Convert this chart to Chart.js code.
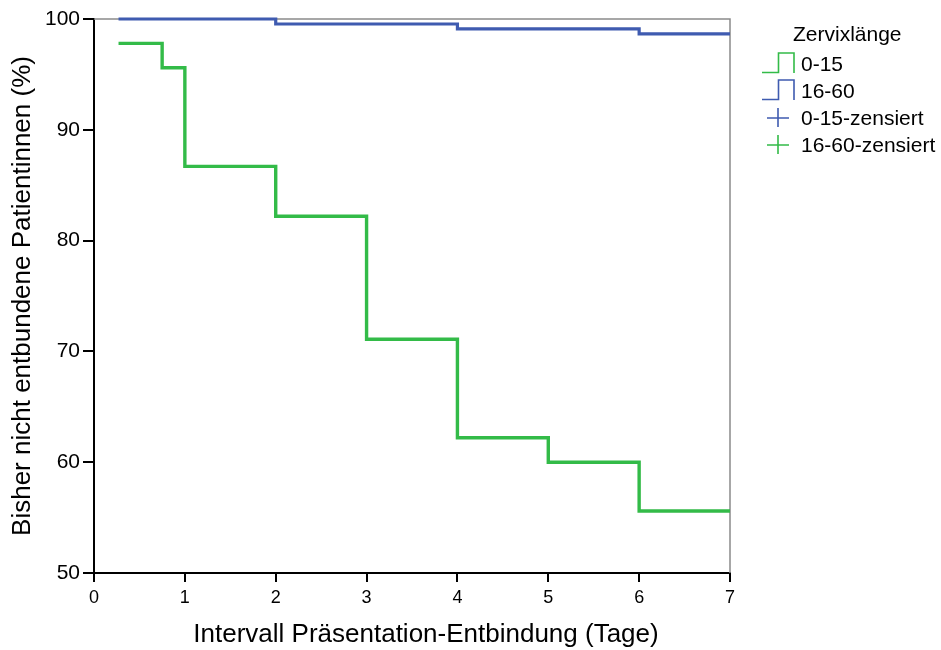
<!DOCTYPE html>
<html>
<head>
<meta charset="utf-8">
<script src="https://cdn.jsdelivr.net/npm/chart.js@4.4.1/dist/chart.umd.min.js"></script>
<style>
  body { margin: 0; background: #fff; font-family: "Liberation Sans", Arial, sans-serif; }
  #wrap { position: relative; width: 941px; height: 650px; }
  #xtitle { position: absolute; left: 226px; width: 400px; top: 617px; text-align: center; font-size: 26px; line-height: 32px; white-space: nowrap; color: #000; display: flex; justify-content: center; }
  #legend { position: absolute; left: 760px; top: 20px; font-size: 21px; color: #000; }
  #legend .title { position: absolute; left: 33px; top: 2px; white-space: nowrap; }
  #legend .row { position: absolute; left: 0; height: 24px; white-space: nowrap; }
  #legend svg { position: absolute; left: 0; top: 0; }
  #legend .row span { position: absolute; left: 41px; top: 0; line-height: 24px; }
</style>
</head>
<body>
<div id="wrap">
  <canvas id="km" width="941" height="650"></canvas>
  <div id="xtitle">Intervall Präsentation-Entbindung (Tage)</div>
  <div id="legend"></div>
</div>
<script>
// Kaplan-Meier steps (day, % still undelivered)
const daysShort = [0.27, 0.75, 1, 2, 3, 4, 5, 6, 7];
const shortCervix = [97.8, 95.6, 86.7, 82.2, 71.1, 62.2, 60.0, 55.6, 55.6];   // 0-15
const daysLong = [0.27, 2, 4, 6, 7];
const longCervix = [100, 99.55, 99.1, 98.65, 98.65];                          // 16-60

const xTicks = [0, 1, 2, 3, 4, 5, 6, 7];
const yTicks = [50, 60, 70, 80, 90, 100];

const green = '#33bb48';
const blue = '#3f5bb0';

function toPoints(xs, ys) {
    return xs.map((x, i) => ({ x: x, y: ys[i] }));
}

// gray frame on top and right side of plot
const frame = {
    id: 'frame',
    beforeDatasetsDraw(chart) {
        const a = chart.chartArea, c = chart.ctx;
        c.save();
        c.strokeStyle = '#8a8a8a';
        c.lineWidth = 1.5;
        c.beginPath();
        c.moveTo(a.left, a.top);
        c.lineTo(a.right, a.top);
        c.lineTo(a.right, a.bottom);
        c.stroke();
        c.restore();
    }
};

new Chart(document.getElementById('km'), {
    type: 'line',
    data: {
        datasets: [
            { label: '0-15', data: toPoints(daysShort, shortCervix), borderColor: green, borderWidth: 3.4, stepped: 'before', pointRadius: 0, fill: false },
            { label: '16-60', data: toPoints(daysLong, longCervix), borderColor: blue, borderWidth: 3.2, stepped: 'before', pointRadius: 0, fill: false, clip: 4 }
        ]
    },
    options: {
        responsive: false,
        animation: false,
        devicePixelRatio: 1,
        layout: { padding: { left: 0, right: 211, top: 19, bottom: 0 } },
        plugins: { legend: { display: false }, tooltip: { enabled: false } },
        scales: {
            x: {
                type: 'linear', min: 0, max: 7,
                afterBuildTicks: s => { s.ticks = xTicks.map(v => ({ value: v })); },
                afterFit: s => { s.height = 77; },
                ticks: { color: '#000', font: { size: 18, family: 'Liberation Sans' }, padding: 5, maxRotation: 0 },
                grid: { drawOnChartArea: false, tickLength: 9, color: '#000', lineWidth: 2 },
                border: { color: '#000', width: 2 }
            },
            y: {
                min: 50, max: 100,
                afterBuildTicks: s => { s.ticks = yTicks.map(v => ({ value: v })); },
                afterFit: s => { s.width = 94; },
                ticks: { color: '#000', font: { size: 21, family: 'Liberation Sans' }, padding: 3 },
                grid: { drawOnChartArea: false, tickLength: 11, color: '#000', lineWidth: 2 },
                border: { color: '#000', width: 2 },
                title: { display: true, text: 'Bisher nicht entbundene Patientinnen (%)', color: '#000',
                         font: { size: 26, family: 'Liberation Sans' }, padding: { top: 7, bottom: 4 } }
            }
        }
    },
    plugins: [frame]
});

// legend (SPSS style)
const legendItems = [
    { text: '0-15', color: green, kind: 'step' },
    { text: '16-60', color: blue, kind: 'step' },
    { text: '0-15-zensiert', color: blue, kind: 'cross' },
    { text: '16-60-zensiert', color: green, kind: 'cross' }
];
const lg = document.getElementById('legend');
lg.innerHTML = '<div class="title">Zervixlänge</div>';
legendItems.forEach((it, i) => {
    const top = 32 + i * 27;
    let icon;
    if (it.kind === 'step') {
        icon = `<svg width="36" height="24"><path d="M2 20.5 H18.5 V1 H34 V21" fill="none" stroke="${it.color}" stroke-width="1.6"/></svg>`;
    } else {
        icon = `<svg width="36" height="24"><path d="M7 12 H29 M18 2 V21" fill="none" stroke="${it.color}" stroke-width="1.6"/></svg>`;
    }
    lg.insertAdjacentHTML('beforeend', `<div class="row" style="top:${top}px">${icon}<span>${it.text}</span></div>`);
});
</script>
</body>
</html>
